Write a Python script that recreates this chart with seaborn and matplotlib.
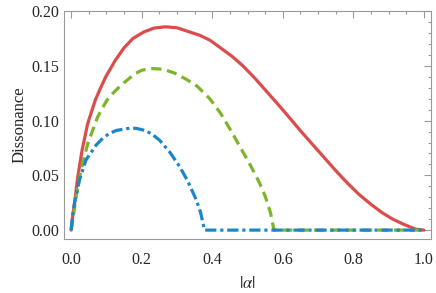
import numpy as np
import pandas as pd
import seaborn as sns
import matplotlib.pyplot as plt
from matplotlib.ticker import MultipleLocator

# values
red_x = [0, 0.004, 0.0094, 0.0188, 0.031, 0.047, 0.0687, 0.085, 0.0989, 0.125, 0.150, 0.175,
         0.206, 0.235, 0.267, 0.30, 0.329, 0.364, 0.393, 0.421, 0.455, 0.487, 0.52,
         0.553, 0.586, 0.619, 0.652, 0.685, 0.718, 0.751, 0.783, 0.816, 0.85, 0.882,
         0.91, 0.939, 0.96, 0.977, 1.0]
red_y = [0, 0.012, 0.0244, 0.0487, 0.073, 0.0974, 0.119, 0.131, 0.1405, 0.155, 0.1665, 0.175,
         0.181, 0.1845, 0.1857, 0.1848, 0.1817, 0.178, 0.1735, 0.167, 0.159, 0.150, 0.139,
         0.127, 0.115, 0.1026, 0.090, 0.078, 0.066, 0.054, 0.043, 0.0326, 0.0235, 0.0158,
         0.0103, 0.0058, 0.003, 0.0008, 0]

green_x = [0, 0.0047, 0.014, 0.028, 0.047, 0.0753, 0.1, 0.118, 0.14, 0.159, 0.179, 0.2,
           0.225, 0.26, 0.291, 0.325, 0.357, 0.393, 0.425, 0.458, 0.477, 0.5, 0.52, 0.534,
           0.55, 0.565, 0.575, 0.7, 0.85, 1.0]
green_y = [0, 0.009, 0.0304, 0.0548, 0.079, 0.1035, 0.118, 0.1248, 0.132, 0.137, 0.1425, 0.146,
           0.1476, 0.147, 0.1437, 0.138, 0.1315, 0.120, 0.106, 0.088, 0.077, 0.064, 0.052, 0.043,
           0.031, 0.016, 0.0, 0.0, 0.0, 0.0]

blue_x = [0, 0.004, 0.0094, 0.0235, 0.042, 0.0706, 0.09, 0.108, 0.128, 0.146, 0.165, 0.184,
          0.21, 0.23, 0.251, 0.28, 0.308, 0.33, 0.355, 0.367, 0.378, 0.5, 0.75, 1.0]
blue_y = [0, 0.013, 0.0244, 0.0457, 0.064, 0.0776, 0.084, 0.0883, 0.091, 0.092, 0.093, 0.093,
          0.091, 0.0875, 0.082, 0.071, 0.0578, 0.045, 0.0274, 0.016, 0.0, 0.0, 0.0, 0.0]

x_ticks = [0.0, 0.2, 0.4, 0.6, 0.8, 1.0]
y_ticks = [0.00, 0.05, 0.10, 0.15, 0.20]

sns.set_style("white")
plt.rcParams['font.family'] = ['Liberation Serif', 'DejaVu Serif']
plt.rcParams['mathtext.fontset'] = 'stix'

fig = plt.figure(figsize=(4.36, 2.93), dpi=100)
ax = fig.add_axes([0.147, 0.184, 0.8415, 0.778])

sns.lineplot(x=red_x, y=red_y, ax=ax, color='#DD4C4C', lw=2.3, sort=False)
sns.lineplot(x=green_x, y=green_y, ax=ax, color='#7CB52A', lw=2.3, sort=False,
             linestyle=(0, (3.2, 1.8)))
sns.lineplot(x=blue_x, y=blue_y, ax=ax, color='#1A87C8', lw=2.3, sort=False,
             linestyle=(0, (3.5, 1.2, 1.0, 1.2)))

ax.set_xlim(-0.02, 1.02)
ax.set_ylim(-0.0082, 0.2)
ax.set_xticks(x_ticks)
ax.set_yticks(y_ticks)
ax.set_xticklabels([f"{v:.1f}" for v in x_ticks])
ax.set_yticklabels([f"{v:.2f}" for v in y_ticks])
ax.xaxis.set_minor_locator(MultipleLocator(0.05))
ax.yaxis.set_minor_locator(MultipleLocator(0.01))

ax.tick_params(which='both', direction='in', top=True, right=True, color='#999999',
               labelsize=11.5, width=0.8)
ax.tick_params(which='major', length=5)
ax.tick_params(which='minor', length=2.5)
ax.tick_params(axis='x', pad=9)
ax.tick_params(axis='y', pad=3.5)
for sp in ax.spines.values():
    sp.set_color('#999999')
    sp.set_linewidth(0.8)

ax.set_xlabel(r'$|\alpha|$', fontsize=12, labelpad=6)
ax.set_ylabel('Dissonance', fontsize=12, labelpad=3)

fig.savefig('out.png', dpi=100)
